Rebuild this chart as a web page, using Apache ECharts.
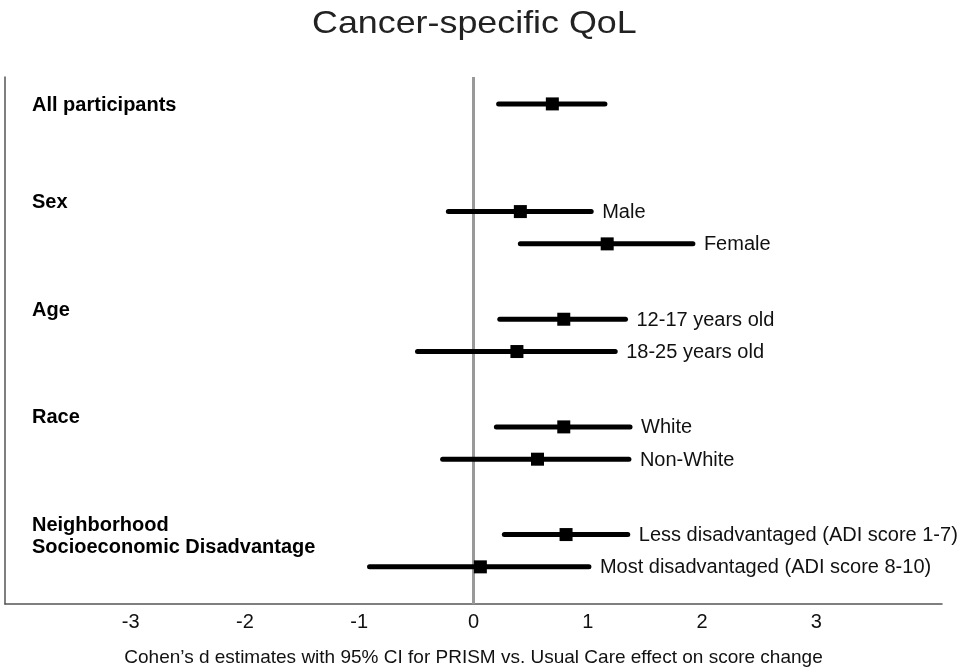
<!DOCTYPE html>
<html>
<head>
<meta charset="utf-8">
<script src="https://cdn.jsdelivr.net/npm/echarts@6/dist/echarts.min.js"></script>
<style>
  html, body { margin: 0; padding: 0; background: #fff; }
  #chart { width: 962px; height: 672px; }
</style>
</head>
<body>
<div id="chart"></div>
<script>
'use strict';

const groups = ['All participants', 'Sex', 'Age', 'Race', 'Neighborhood\nSocioeconomic Disadvantage'];
const subgroups = ['', 'Male', 'Female', '12-17 years old', '18-25 years old', 'White', 'Non-White',
  'Less disadvantaged (ADI score 1-7)', 'Most disadvantaged (ADI score 8-10)'];
const rowGroup = [0, 1, 1, 2, 2, 3, 3, 4, 4];
const estimate = [0.69, 0.41, 1.17, 0.79, 0.38, 0.79, 0.56, 0.81, 0.06];
const lower = [0.22, -0.22, 0.41, 0.23, -0.49, 0.20, -0.27, 0.27, -0.91];
const upper = [1.15, 1.03, 1.92, 1.33, 1.24, 1.37, 1.36, 1.35, 1.01];
const xTicks = [-3, -2, -1, 0, 1, 2, 3];

const X_MIN = -4.1, X_MAX = 4.1;
const FONT = '"Liberation Sans", Arial, sans-serif';

// vertical slot for each row: groups 10 slots apart, rows within a group 3 apart
const seen = {};
const rowSlot = rowGroup.map((g) => {
  const k = seen[g] || 0;
  seen[g] = k + 1;
  return g * 10 + k * 3;
});
const groupSlot = groups.map((_, g) => rowSlot[rowGroup.indexOf(g)]);

const rows = estimate.map((e, i) => [lower[i], upper[i], e, rowSlot[i], i]);
const groupRows = groups.map((name, g) => [X_MIN, groupSlot[g], g]);

const chart = echarts.init(document.getElementById('chart'));
chart.setOption({
  backgroundColor: '#fff',
  animation: false,
  graphic: [{
    type: 'text',
    x: 312,
    y: 8,
    scaleX: 1.12,
    style: {
      text: 'Cancer-specific QoL',
      font: '32px ' + FONT,
      fill: '#222',
    },
  }],
  grid: { left: 5, right: 20, top: 77, bottom: 68, containLabel: false },
  xAxis: {
    type: 'value',
    min: X_MIN,
    max: X_MAX,
    name: 'Cohen\u2019s d estimates with 95% CI for PRISM vs. Usual Care effect on score change',
    nameLocation: 'middle',
    nameGap: 44,
    nameTextStyle: { fontFamily: FONT, fontSize: 19, color: '#111' },
    axisLine: { onZero: false, lineStyle: { color: '#555', width: 1.5 } },
    axisTick: { show: false },
    splitLine: { show: false },
    axisLabel: {
      customValues: xTicks,
      margin: 8,
      fontFamily: FONT,
      fontSize: 20,
      color: '#111',
    },
  },
  yAxis: {
    type: 'value',
    inverse: true,
    min: -2.5,
    max: 46.45,
    axisLine: { show: true, onZero: false, lineStyle: { color: '#555', width: 1.5 } },
    axisTick: { show: false },
    axisLabel: { show: false },
    splitLine: { show: false },
  },
  series: [
    {
      type: 'custom',
      data: rows,
      renderItem: (params, api) => {
        const y = api.value(3);
        const p0 = api.coord([api.value(0), y]);
        const p1 = api.coord([api.value(1), y]);
        const pe = api.coord([api.value(2), y]);
        const label = subgroups[api.value(4)];
        const children = [
          {
            type: 'line',
            shape: { x1: p0[0], y1: p0[1], x2: p1[0], y2: p1[1] },
            style: { stroke: '#000', lineWidth: 5, lineCap: 'round' },
          },
          {
            type: 'rect',
            shape: { x: pe[0] - 6.5, y: pe[1] - 6.5, width: 13, height: 13 },
            style: { fill: '#000' },
          },
        ];
        if (label) {
          children.push({
            type: 'text',
            style: {
              text: label, x: p1[0] + 11, y: p1[1] + 1,
              verticalAlign: 'middle', align: 'left',
              font: '20px ' + FONT, fill: '#111',
            },
          });
        }
        return { type: 'group', children };
      },
      markLine: {
        silent: true,
        symbol: 'none',
        label: { show: false },
        lineStyle: { color: '#999', width: 3, type: 'solid' },
        data: [{ xAxis: 0 }],
        z: 1,
      },
      z: 3,
    },
    {
      type: 'custom',
      data: groupRows,
      renderItem: (params, api) => {
        const g = api.value(2);
        const p = api.coord([api.value(0), api.value(1)]);
        const hasSub = rowGroup.filter((r) => r === g).length > 1;
        return {
          type: 'text',
          style: {
            text: groups[g],
            x: p[0] + 27,
            y: hasSub ? p[1] - 20 : p[1] - 9,
            verticalAlign: 'top', align: 'left',
            font: 'bold 20px ' + FONT, fill: '#000',
            lineHeight: 22,
          },
        };
      },
    },
  ],
});
</script>
</body>
</html>
